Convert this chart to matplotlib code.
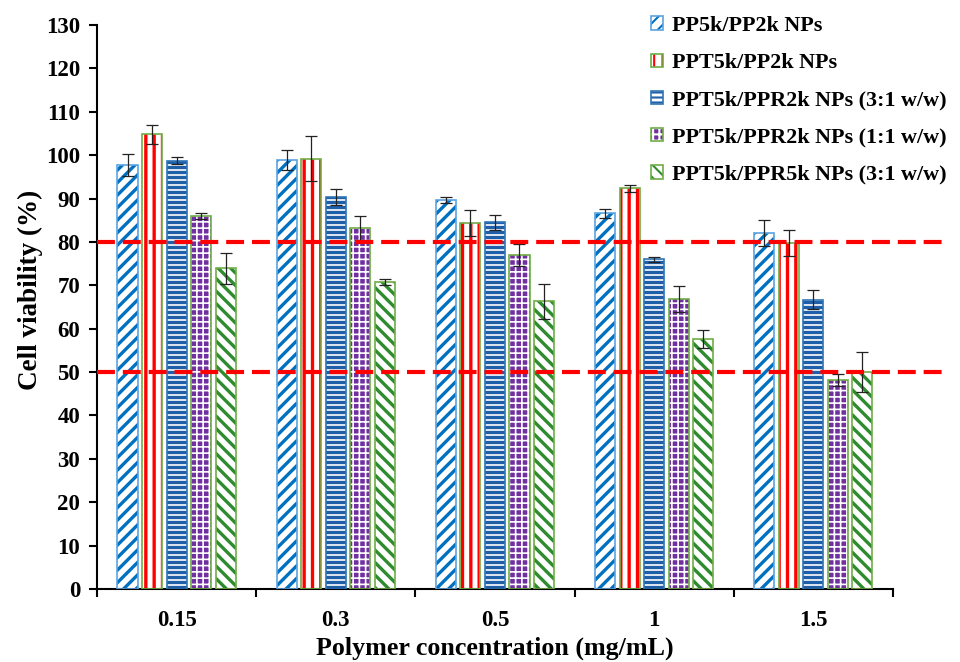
import numpy as np
import matplotlib
matplotlib.use('Agg')
import matplotlib.pyplot as plt

concentrations = ['0.15', '0.3', '0.5', '1', '1.5']
series_names = ['PP5k/PP2k NPs',
                'PPT5k/PP2k NPs',
                'PPT5k/PPR2k NPs (3:1 w/w)',
                'PPT5k/PPR2k NPs (1:1 w/w)',
                'PPT5k/PPR5k NPs (3:1 w/w)']
pp5k_pp2k = [97.8, 98.8, 89.7, 86.6, 82.0]
ppt5k_pp2k = [104.8, 99.2, 84.3, 92.4, 79.8]
ppr2k_31 = [98.7, 90.4, 84.5, 76.0, 66.7]
ppr2k_11 = [86.0, 83.2, 77.0, 66.8, 48.2]
ppr5k_31 = [73.9, 70.7, 66.3, 57.6, 50.0]
pp5k_pp2k_err = [2.5, 2.3, 0.7, 1.0, 3.0]
ppt5k_pp2k_err = [2.2, 5.2, 3.0, 0.8, 3.0]
ppr2k_31_err = [0.8, 1.8, 1.8, 0.6, 2.2]
ppr2k_11_err = [0.7, 2.7, 2.5, 3.0, 1.4]
ppr5k_31_err = [3.5, 0.7, 4.0, 2.0, 4.7]
thresholds = [80, 50]

values = [pp5k_pp2k, ppt5k_pp2k, ppr2k_31, ppr2k_11, ppr5k_31]
errors = [pp5k_pp2k_err, ppt5k_pp2k_err, ppr2k_31_err, ppr2k_11_err, ppr5k_31_err]

# face, hatch colour, hatch, hatch lw, outline colour
styles = [
    ('white', '#0070C0', '////', 1.6, '#5BA3E0'),
    ('white', '#FF0000', '|||', 1.6, '#70AD47'),
    ('white', '#1F5FA8', '-----', 1.6, '#2E75B6'),
    ('#7030A0', 'white', '++++', 0.8, '#70AD47'),
    ('white', '#2E8B2E', '\\\\\\\\', 1.6, '#70AD47'),
]

plt.rcParams['font.family'] = ['Liberation Serif', 'DejaVu Serif']
plt.rcParams['font.weight'] = 'bold'

fig = plt.figure(figsize=(6.4, 662 / 150), dpi=150)
ax = fig.add_axes([0.101, 0.1103, 0.8292, 0.852])

x = np.arange(len(concentrations))
width = 0.126
step = 0.154

handles = []
for i, (vals, errs) in enumerate(zip(values, errors)):
    face, hcol, hatch, hlw, ecol = styles[i]
    pos = x + (i - 2) * step
    with plt.rc_context({'hatch.linewidth': hlw}):
        b1 = ax.bar(pos, vals, width, color=face, edgecolor=hcol, hatch=hatch,
                    linewidth=0, zorder=2)
    for p in b1:
        if hasattr(p, 'set_hatch_linewidth'):
            p.set_hatch_linewidth(hlw)
    b2 = ax.bar(pos, vals, width, fill=False, edgecolor=ecol, linewidth=0.8,
                zorder=3)
    ax.errorbar(pos, vals, yerr=errs, fmt='none', ecolor='#222222',
                elinewidth=0.6, capsize=3, capthick=0.6, zorder=4)
    handles.append((b1[0], b2[0]))

for t in thresholds:
    ax.plot([0, 1.07], [t, t], transform=ax.get_yaxis_transform(),
            color='#FF0000', lw=2, dashes=(4.3, 1.9), clip_on=False, zorder=5)

ax.set_xlim(-0.5, 4.5)
ax.set_ylim(0, 130)
ax.set_yticks(np.arange(0, 131, 10))
ax.set_xticks(x)
ax.set_xticklabels(concentrations)
ax.set_xticks(np.arange(-0.5, 4.6, 1), minor=True)
ax.tick_params(axis='x', which='major', length=0, pad=10, labelsize=11)
ax.tick_params(axis='x', which='minor', length=4, width=1)
ax.tick_params(axis='y', length=4, width=1, pad=4, labelsize=11)

for s in ['top', 'right']:
    ax.spines[s].set_visible(False)
for s in ['left', 'bottom']:
    ax.spines[s].set_linewidth(1)

fig.text(30 / 960, 1 - 290 / 662, 'Cell viability (%)', rotation=90,
         ha='center', va='center', fontsize=13, fontweight='bold')
ax.set_xlabel('Polymer concentration (mg/mL)', fontsize=12.5, fontweight='bold',
              labelpad=3)

fig.legend(handles, series_names, loc='upper left', bbox_to_anchor=(0.657, 1.006),
           frameon=False, fontsize=10.6, handlelength=0.55, handleheight=0.55,
           handletextpad=0.4, labelspacing=0.78)

fig.savefig('out.png', dpi=150)
